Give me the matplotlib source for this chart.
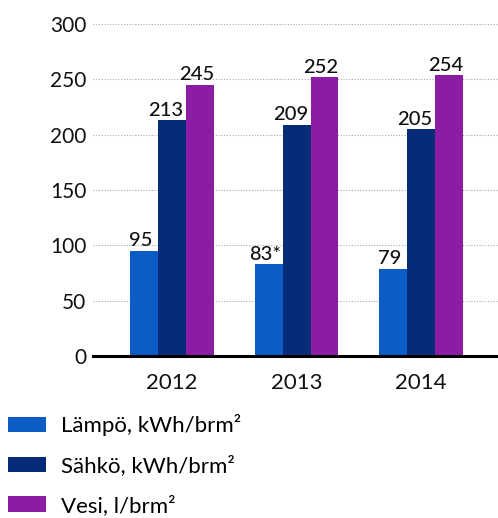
import numpy as np
import matplotlib.pyplot as plt

plt.rcParams['font.family'] = ['Lato', 'DejaVu Sans']

years = ["2012", "2013", "2014"]
lampo = [95, 83, 79]
sahko = [213, 209, 205]
vesi = [245, 252, 254]
lampo_labels = ["95", "83*", "79"]
sahko_labels = ["213", "209", "205"]
vesi_labels = ["245", "252", "254"]
series_names = ["Lämpö, kWh/brm²", "Sähkö, kWh/brm²", "Vesi, l/brm²"]
colors = ["#0b5cc4", "#062b78", "#8b1ca3"]

fig = plt.figure(figsize=(4.98, 5.18), dpi=100)
ax = fig.add_axes([0.187, 0.3127, 0.813, 0.641])

x = np.arange(len(years))
w = 0.224
shifts = [-2.5, -4.5, -2.5]  # labels sit a bit left of bar centre in the original
bars = []
for i, (vals, labs) in enumerate([(lampo, lampo_labels), (sahko, sahko_labels), (vesi, vesi_labels)]):
    b = ax.bar(x + (i - 1) * w, vals, w, color=colors[i], label=series_names[i], zorder=3)
    bars.append(b)
    anns = ax.bar_label(b, labels=labs, padding=1, fontsize=14.5, color="#111111",
                        fontweight="medium")
    for a in anns:
        a.xyann = (shifts[i], 1)

ax.set_xlim(-0.632, 2.616)
ax.set_ylim(0, 300)
ax.set_yticks(np.arange(0, 301, 50))
ax.set_xticks(x)
ax.set_xticklabels(years)
ax.tick_params(axis="both", length=0, labelsize=15, colors="#111111")
ax.tick_params(axis="x", pad=12, labelsize=16)
ax.tick_params(axis="y", pad=5)
ax.yaxis.grid(True, linestyle=(0, (1, 1.5)), color="#aaaaaa", linewidth=0.8, zorder=0)
for s in ["top", "right", "left"]:
    ax.spines[s].set_visible(False)
ax.spines["bottom"].set_linewidth(2.2)
ax.spines["bottom"].set_zorder(4)

fig.legend(handles=bars, labels=series_names, loc="upper left",
           bbox_to_anchor=(0.016, 0.2), frameon=False, fontsize=16,
           handlelength=1.7, handleheight=0.7, handletextpad=0.7,
           labelspacing=0.85, borderaxespad=0, borderpad=0)

fig.savefig("out.png", dpi=100)
